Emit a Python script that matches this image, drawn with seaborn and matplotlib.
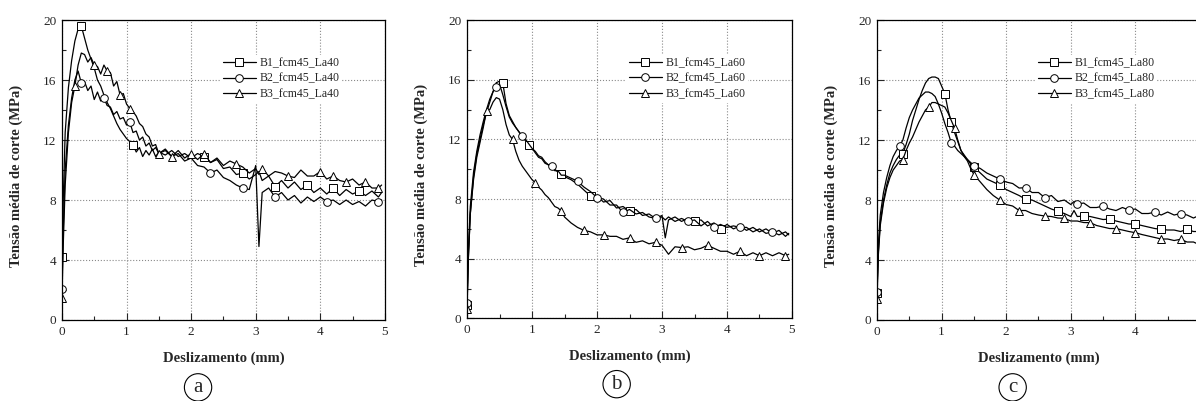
import numpy as np
import seaborn as sns
import matplotlib.pyplot as plt
import matplotlib.lines as mlines
from matplotlib.ticker import MultipleLocator

# slip positions (mm) at which the curves were read, shared by every series
slip = [0, 0.02, 0.05, 0.1, 0.15, 0.2, 0.25, 0.3, 0.35, 0.4, 0.45, 0.5, 0.55, 0.6, 0.65,
        0.7, 0.75, 0.8, 0.85, 0.9, 0.95, 1.0, 1.05, 1.1, 1.15, 1.2, 1.25, 1.3, 1.35, 1.4,
        1.45, 1.5, 1.6, 1.7, 1.8, 1.9, 2.0, 2.1, 2.2, 2.3, 2.4, 2.5, 2.6, 2.7, 2.8, 2.9,
        3.0, 3.05, 3.1, 3.2, 3.3, 3.4, 3.5, 3.6, 3.7, 3.8, 3.9, 4.0, 4.1, 4.2, 4.3, 4.4,
        4.5, 4.6, 4.7, 4.8, 4.9, 4.95]

# (a) La40
a_b1 = [4.2, 8.0, 12.5, 15.5, 17.3, 18.6, 19.4, 19.6, 18.8, 18.0, 17.4, 16.8, 16.0, 15.6, 15.0,
        14.5, 14.1, 13.6, 13.1, 12.7, 12.4, 12.1, 11.9, 11.7, 11.2, 11.5, 10.9, 11.3, 11.0, 11.4,
        10.9, 11.2, 11.0, 11.3, 10.9, 11.1, 10.8, 11.1, 10.9, 10.5, 10.7, 10.1, 10.2, 9.7, 9.8, 9.4,
        9.7, 9.9, 9.3, 9.6, 8.9, 9.3, 8.8, 9.2, 8.7, 9.0, 8.5, 8.8, 8.4, 8.8, 8.3, 8.7,
        8.4, 8.6, 8.3, 8.6, 8.2, 8.5]
a_b2 = [2.1, 6.0, 10.0, 13.0, 14.8, 16.0, 16.6, 15.8, 15.9, 15.3, 15.6, 14.7, 15.2, 14.6, 14.8,
        14.3, 14.2, 13.7, 13.9, 13.4, 13.5, 13.0, 13.2, 12.5, 12.6, 12.0, 12.2, 11.6, 11.8, 11.3,
        11.5, 11.1, 11.3, 10.9, 11.1, 10.6, 10.8, 10.3, 10.2, 9.8, 10.0, 9.5, 9.3, 9.0, 8.8, 8.7,
        10.3, 4.9, 8.5, 8.8, 8.2, 8.5, 8.0, 8.3, 7.8, 8.2, 7.9, 8.2, 7.9, 8.0, 7.7, 8.0,
        7.7, 7.9, 7.6, 8.0, 7.9, 8.0]
a_b3 = [1.5, 5.0, 9.0, 12.5, 14.5, 15.6, 17.0, 17.8, 17.7, 17.2, 17.5, 17.0, 16.9, 16.4, 17.0,
        16.6, 16.5, 15.6, 15.9, 15.0, 15.1, 14.4, 14.1, 13.9, 13.6, 13.1, 12.9, 12.4, 12.2, 11.6,
        11.7, 11.1, 11.4, 10.9, 11.3, 10.8, 11.1, 10.7, 11.1, 10.5, 10.8, 10.3, 10.6, 10.4, 10.2, 9.8,
        10.1, 9.7, 10.1, 9.6, 9.9, 9.8, 9.6, 9.5, 10.0, 9.6, 9.6, 9.9, 9.4, 9.6, 9.3, 9.2,
        9.4, 9.0, 9.2, 8.8, 8.8, 9.0]

# (b) La60
b_b1 = [0.9, 4.0, 7.0, 9.5, 11.0, 12.0, 13.0, 13.8, 14.5, 15.2, 15.8, 15.9, 15.8, 14.4, 13.6,
        13.2, 12.8, 12.5, 12.2, 11.9, 11.6, 11.4, 11.1, 10.8, 10.7, 10.4, 10.3, 10.1, 10.0, 9.8,
        9.7, 9.5, 9.3, 9.0, 8.6, 8.2, 8.2, 7.8, 7.9, 7.4, 7.5, 7.2, 7.3, 6.9, 7.0, 6.7,
        6.9, 5.4, 6.6, 6.8, 6.5, 6.7, 6.5, 6.6, 6.2, 6.4, 6.0, 6.3, 6.0, 6.2, 5.9, 6.1,
        5.8, 6.0, 5.7, 5.9, 5.5, 5.7]
b_b2 = [1.0, 4.5, 7.5, 9.8, 11.2, 12.3, 13.2, 14.0, 14.7, 15.2, 15.5, 15.7, 15.0, 14.2, 13.5,
        13.1, 12.8, 12.5, 12.2, 12.0, 11.7, 11.4, 11.2, 10.9, 10.8, 10.5, 10.3, 10.2, 9.9, 9.9,
        9.6, 9.6, 9.4, 9.2, 8.8, 8.5, 8.1, 8.0, 7.6, 7.6, 7.1, 7.3, 7.0, 7.1, 6.8, 6.7,
        6.8, 6.6, 6.8, 6.5, 6.7, 6.5, 6.6, 6.2, 6.5, 6.1, 6.3, 6.1, 6.2, 6.1, 6.1, 5.8,
        6.0, 5.7, 5.8, 5.6, 5.8, 5.6]
b_b3 = [0.6, 4.0, 7.0, 9.3, 10.8, 11.8, 12.8, 13.9, 14.0, 14.5, 14.8, 14.7, 14.0, 13.0, 12.3,
        12.0, 11.2, 10.6, 10.2, 9.9, 9.6, 9.3, 9.1, 8.8, 8.6, 8.3, 8.1, 7.8, 7.5, 7.4,
        7.2, 6.8, 6.4, 6.1, 5.9, 5.8, 5.6, 5.6, 5.5, 5.5, 5.3, 5.4, 5.1, 5.2, 5.0, 5.1,
        4.9, 4.6, 4.3, 4.8, 4.75, 4.8, 4.6, 4.7, 4.9, 4.7, 4.5, 4.5, 4.3, 4.5, 4.2, 4.4,
        4.2, 4.4, 4.2, 4.4, 4.2, 4.3]

# (c) La80
c_b1 = [1.8, 4.5, 6.5, 8.0, 9.0, 9.8, 10.3, 10.7, 11.0, 11.1, 11.7, 12.4, 13.3, 14.0, 14.7,
        15.3, 15.8, 16.1, 16.2, 16.2, 16.1, 15.6, 15.1, 14.0, 13.2, 12.5, 11.9, 11.3, 11.0, 10.7,
        10.4, 10.2, 9.8, 9.4, 9.2, 9.0, 8.7, 8.5, 8.3, 8.05, 8.0, 7.8, 7.6, 7.4, 7.25, 7.1,
        6.9, 7.3, 6.9, 6.93, 6.9, 6.8, 6.7, 6.73, 6.6, 6.5, 6.4, 6.4, 6.3, 6.2, 6.1, 6.04,
        6.0, 6.0, 5.9, 6.04, 5.9, 5.9]
c_b2 = [1.9, 5.0, 7.0, 8.5, 9.5, 10.3, 10.9, 11.3, 11.6, 12.0, 12.8, 13.5, 14.0, 14.4, 14.8,
        15.0, 15.2, 15.2, 15.1, 14.9, 14.4, 13.8, 13.1, 12.5, 11.8, 11.6, 11.3, 11.1, 10.9, 10.7,
        10.5, 10.3, 10.1, 9.8, 9.6, 9.4, 9.2, 9.1, 8.8, 8.82, 8.5, 8.5, 8.15, 8.3, 7.9, 8.0,
        7.7, 7.9, 7.73, 7.8, 7.5, 7.5, 7.6, 7.4, 7.3, 7.5, 7.33, 7.4, 7.1, 7.1, 7.18, 7.0,
        7.2, 7.0, 7.1, 7.0, 6.8, 6.9]
c_b3 = [1.4, 4.3, 6.3, 7.8, 8.8, 9.5, 10.0, 10.3, 10.6, 10.7, 11.3, 11.8, 12.2, 12.7, 13.2,
        13.6, 14.0, 14.2, 14.5, 14.5, 14.4, 14.3, 14.2, 13.8, 13.3, 12.8, 12.0, 11.3, 10.9, 10.6,
        10.1, 9.7, 9.2, 8.7, 8.3, 8.0, 7.7, 7.6, 7.3, 7.3, 7.1, 7.0, 6.93, 6.9, 6.8, 6.78,
        6.6, 6.6, 6.6, 6.5, 6.49, 6.3, 6.2, 6.1, 6.1, 6.0, 5.9, 5.82, 5.7, 5.6, 5.5, 5.4,
        5.4, 5.3, 5.38, 5.2, 5.2, 5.1]

# which read points carry a marker
a_marks = [[0, 7, 23, 38, 44, 50, 55, 59, 63],
           [0, 7, 14, 22, 39, 44, 50, 58, 66],
           [0, 5, 11, 15, 19, 22, 31, 33, 36, 38, 43, 48, 52, 57, 59, 61, 64, 66]]
b_marks = [[0, 12, 20, 30, 35, 41, 52, 56],
           [0, 10, 18, 27, 33, 36, 40, 45, 51, 55, 59, 64],
           [0, 7, 15, 22, 30, 34, 37, 41, 45, 50, 54, 59, 62, 66]]
c_marks = [[0, 9, 22, 24, 31, 35, 39, 44, 49, 53, 57, 61, 65],
           [0, 8, 24, 31, 35, 39, 42, 48, 52, 56, 60, 64],
           [0, 9, 17, 25, 31, 35, 38, 42, 45, 50, 54, 57, 61, 64]]

x_ticks = [0, 1, 2, 3, 4, 5]
x_ticklabels = ["0", "1", "2", "3", "4", "5"]
# panel (c) runs past the right edge of the picture, its "5" is not shown
x_ticklabels_c = ["0", "1", "2", "3", "4", ""]

panels = [("a", "La40", [a_b1, a_b2, a_b3], a_marks, x_ticklabels),
          ("b", "La60", [b_b1, b_b2, b_b3], b_marks, x_ticklabels),
          ("c", "La80", [c_b1, c_b2, c_b3], c_marks, x_ticklabels_c)]
markers = ["s", "o", "^"]

sns.set_style("ticks")
plt.rcParams['font.family'] = ['Liberation Serif', 'DejaVu Serif']

fig = plt.figure(figsize=(11.96, 4.01), dpi=100)
boxes = [[0.0518, 0.202, 0.270, 0.748],
         [0.3905, 0.206, 0.2717, 0.744],
         [0.7333, 0.202, 0.270, 0.748]]
circ_pos = [(0.1656, 0.034), (0.5156, 0.042), (0.8467, 0.034)]

for k, (tag, la, series, marks, xlabs) in enumerate(panels):
    ax = fig.add_axes(boxes[k])
    handles = []
    for j in range(3):
        sns.lineplot(x=slip, y=series[j], ax=ax, color="black", linewidth=0.9,
                     marker=markers[j], markevery=marks[j], markersize=5.5,
                     markerfacecolor="white", markeredgecolor="black", markeredgewidth=0.7,
                     estimator=None, sort=False)
        handles.append(mlines.Line2D([], [], color="black", linewidth=0.9, marker=markers[j],
                                     markersize=5.5, markerfacecolor="white",
                                     markeredgecolor="black", markeredgewidth=0.7,
                                     label="B%d_fcm45_%s" % (j + 1, la)))
    ax.set_xlim(0, 5)
    ax.set_ylim(0, 20)
    ax.set_xticks(x_ticks, labels=xlabs)
    ax.xaxis.set_minor_locator(MultipleLocator(0.5))
    ax.yaxis.set_major_locator(MultipleLocator(4))
    ax.yaxis.set_minor_locator(MultipleLocator(2))
    ax.tick_params(which="both", direction="in", labelsize=9.5, pad=4, width=0.8)
    ax.tick_params(which="major", length=5)
    ax.tick_params(which="minor", length=3)
    ax.grid(True, which="major", linestyle=":", color="#8a8a8a", linewidth=0.8)
    ax.set_axisbelow(True)
    for sp in ax.spines.values():
        sp.set_linewidth(0.9)
        sp.set_color("black")
    ax.set_xlabel("Deslizamento (mm)", fontsize=10.5, fontweight="bold")
    ax.set_ylabel("Tensão média de corte (MPa)", fontsize=10.5, fontweight="bold")
    ax.xaxis.set_label_coords(0.5, -0.105)
    ax.yaxis.set_label_coords(-0.12, 0.48)
    ax.legend(handles=handles, loc="upper left", bbox_to_anchor=(0.49, 0.885),
              frameon=True, fancybox=False, framealpha=1, edgecolor="none",
              facecolor="white", fontsize=8.5, handlelength=2.8, handletextpad=0.3,
              labelspacing=0.32, borderpad=0.2, borderaxespad=0)
    fig.text(circ_pos[k][0], circ_pos[k][1], tag, ha="center", va="center", fontsize=15,
             bbox=dict(boxstyle="circle,pad=0.2", fc="white", ec="black", lw=0.8))

fig.savefig("out.png", dpi=100)
